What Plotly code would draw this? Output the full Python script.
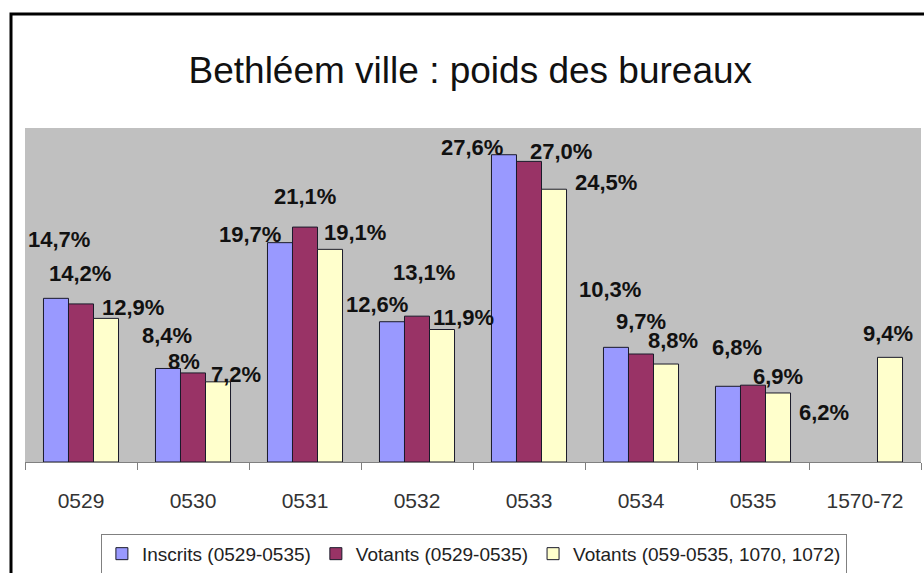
import plotly.graph_objects as go

categories = ["0529", "0530", "0531", "0532", "0533", "0534", "0535", "1570-72"]
inscrits = [14.7, 8.4, 19.7, 12.6, 27.6, 10.3, 6.8, None]
votants = [14.2, 8.0, 21.1, 13.1, 27.0, 9.7, 6.9, None]
votants_ext = [12.9, 7.2, 19.1, 11.9, 24.5, 8.8, 6.2, 9.4]
label_inscrits = ["14,7%", "8,4%", "19,7%", "12,6%", "27,6%", "10,3%", "6,8%", None]
label_votants = ["14,2%", "8%", "21,1%", "13,1%", "27,0%", "9,7%", "6,9%", None]
label_votants_ext = ["12,9%", "7,2%", "19,1%", "11,9%", "24,5%", "8,8%", "6,2%", "9,4%"]
series_names = ["Inscrits (0529-0535)", "Votants (0529-0535)", "Votants (059-0535, 1070, 1072)"]
colors = ["#9999FF", "#993366", "#FFFFCC"]

# label placement offsets in pixels (dx, dy) relative to bar top centre (style only)
offs_inscrits = [(3, 59), (-1, 33), (-30, 8), (-15, 17), (-32, 7), (-6, 58), (9, 39), None]
offs_votants = [(-1, 30), (-9, 11), (0, 31), (7, 44), (32, 10), (0, 33), (25, 9), None]
offs_ext = [(27, 11), (18, 7), (25, 17), (21, 12), (52, 7), (7, 24), (46, -20), (-2, 24)]

FONT = "Arial, 'Liberation Sans', sans-serif"

fig = go.Figure()
for name, vals, col in zip(series_names, [inscrits, votants, votants_ext], colors):
    fig.add_trace(go.Bar(
        x=categories, y=vals, name=name,
        marker=dict(color=col, line=dict(color="#1a1a2a", width=1)),
    ))

annotations = []
bar_shift = [-25, 0, 25]
for s, (vals, labs, offs) in enumerate(zip([inscrits, votants, votants_ext],
                                          [label_inscrits, label_votants, label_votants_ext],
                                          [offs_inscrits, offs_votants, offs_ext])):
    for i, (v, lab, off) in enumerate(zip(vals, labs, offs)):
        if v is None:
            continue
        annotations.append(dict(
            x=i, y=v, xref="x", yref="y", text=lab, showarrow=False,
            xanchor="center", yanchor="middle",
            xshift=bar_shift[s] + off[0], yshift=off[1],
            font=dict(family=FONT, size=22, color="#111111", weight="bold"),
        ))

fig.update_layout(
    width=924, height=573,
    margin=dict(l=25, r=3, t=128, b=111, autoexpand=False),
    paper_bgcolor="white", plot_bgcolor="#C0C0C0",
    barmode="group", bargap=0.33, bargroupgap=0,
    title=dict(text="Bethléem ville : poids des bureaux", x=0.509, xanchor="center",
               y=1 - 70 / 573, yanchor="middle",
               font=dict(family=FONT, size=37, color="#111111")),
    font=dict(family=FONT),
    showlegend=True,
    legend=dict(orientation="h", x=0.501, xanchor="center", y=-0.215, yanchor="top",
                bgcolor="white", bordercolor="#808080", borderwidth=1,
                font=dict(family=FONT, size=19, color="#222222"),
                traceorder="normal", itemwidth=30),
    annotations=annotations,
    shapes=[dict(type="rect", xref="paper", yref="paper",
                 x0=-14 / 896, x1=1.05, y0=-0.6, y1=(462 - 14) / 334,
                 line=dict(color="black", width=3), fillcolor="rgba(0,0,0,0)", layer="above")],
)
fig.update_xaxes(type="category", automargin=False, range=[-0.5, 7.5],
                 showline=True, linecolor="#808080", linewidth=1,
                 ticks="outside", tickson="boundaries", ticklen=7, tickcolor="#808080",
                 tickfont=dict(family=FONT, size=21, color="#333333"), tickangle=0,
                 ticklabelstandoff=20, showgrid=False)
fig.update_yaxes(visible=False, range=[0, 30], showgrid=False, automargin=False)

fig.write_html("out.html", config={"displayModeBar": False},
               post_script="document.body.style.margin='0';")
